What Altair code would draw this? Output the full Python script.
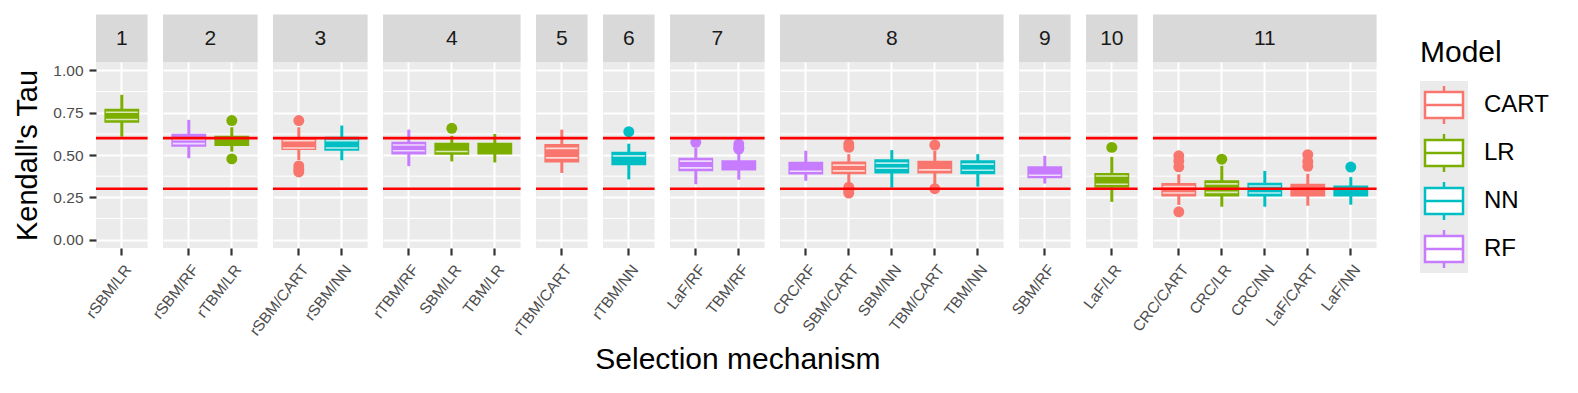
import altair as alt
import pandas as pd

FONT = "Liberation Sans"

models = ["CART", "LR", "NN", "RF"]
model_colors = ["#F8766D", "#7CAE00", "#00BFC4", "#C77CFF"]

panel_ids = [1, 2, 2, 3, 3, 4, 4, 4, 5, 6, 7, 7, 8, 8, 8, 8, 8, 9, 10, 11, 11, 11, 11, 11]
mechanisms = ["rSBM/LR", "rSBM/RF", "rTBM/LR", "rSBM/CART", "rSBM/NN",
              "rTBM/RF", "SBM/LR", "TBM/LR", "rTBM/CART", "rTBM/NN",
              "LaF/RF", "TBM/RF", "CRC/RF", "SBM/CART", "SBM/NN", "TBM/CART", "TBM/NN",
              "SBM/RF", "LaF/LR", "CRC/CART", "CRC/LR", "CRC/NN", "LaF/CART", "LaF/NN"]
box_model = ["LR", "RF", "LR", "CART", "NN",
             "RF", "LR", "LR", "CART", "NN",
             "RF", "RF", "RF", "CART", "NN", "CART", "NN",
             "RF", "LR", "CART", "LR", "NN", "CART", "NN"]
whisker_lo = [0.608, 0.481, 0.520, 0.470, 0.469,
              0.434, 0.462, 0.456, 0.394, 0.356,
              0.327, 0.354, 0.348, 0.337, 0.307, 0.327, 0.313,
              0.331, 0.223, 0.205, 0.194, 0.194, 0.200, 0.206]
q1 = [0.690, 0.549, 0.553, 0.529, 0.525,
      0.503, 0.501, 0.503, 0.456, 0.440,
      0.404, 0.408, 0.384, 0.386, 0.390, 0.390, 0.386,
      0.362, 0.307, 0.255, 0.255, 0.255, 0.254, 0.254]
q3 = [0.773, 0.626, 0.614, 0.594, 0.608,
      0.579, 0.572, 0.572, 0.565, 0.519,
      0.483, 0.469, 0.460, 0.462, 0.475, 0.466, 0.469,
      0.434, 0.394, 0.334, 0.350, 0.336, 0.330, 0.320]
whisker_hi = [0.856, 0.708, 0.664, 0.664, 0.674,
              0.650, 0.614, 0.624, 0.650, 0.567,
              0.541, 0.505, 0.525, 0.505, 0.529, 0.525, 0.505,
              0.495, 0.489, 0.386, 0.436, 0.406, 0.389, 0.369]
median_lines = [[0.753, 0.710], [0.590, 0.567], [], [0.585, 0.541], [0.585, 0.541],
                [0.559, 0.525], [0.521], [], [0.539, 0.483], [0.495],
                [0.464, 0.424], [], [0.404], [0.440, 0.406], [0.452, 0.422], [0.412], [0.446, 0.410],
                [0.380], [0.376, 0.327], [0.313, 0.275], [0.329, 0.279], [0.317, 0.275], [], []]
outliers = [[], [], [0.704, 0.477], [0.704, 0.435, 0.415, 0.400], [],
            [], [0.658], [], [], [0.638],
            [0.575], [0.565, 0.545, 0.535], [], [0.565, 0.545, 0.310, 0.290, 0.275], [], [0.559, 0.301], [],
            [], [0.545], [0.495, 0.465, 0.430, 0.164], [0.475], [], [0.502, 0.462, 0.433], [0.429]]

ref_lines = [0.3, 0.6]
y_ticks = [0.0, 0.25, 0.5, 0.75, 1.0]
minor_breaks = [0.125, 0.375, 0.625, 0.875]

STEP = 43
PANEL_H = 186

color_scale = alt.Scale(domain=models, range=model_colors)
yscale = alt.Scale(domain=[-0.05, 1.05], nice=False, zero=False)


def panel_chart(p, first):
    idx = [i for i, v in enumerate(panel_ids) if v == p]
    mechs = [mechanisms[i] for i in idx]
    n = len(mechs)
    w = STEP * (n + 0.2)
    box_df = pd.DataFrame({
        "mech": mechs,
        "model": [box_model[i] for i in idx],
        "lo": [whisker_lo[i] for i in idx],
        "q1": [q1[i] for i in idx],
        "q3": [q3[i] for i in idx],
        "hi": [whisker_hi[i] for i in idx],
    })
    med_df = pd.DataFrame([{"mech": mechanisms[i], "model": box_model[i], "v": m}
                           for i in idx for m in median_lines[i]], columns=["mech", "model", "v"])
    out_df = pd.DataFrame([{"mech": mechanisms[i], "model": box_model[i], "v": o}
                           for i in idx for o in outliers[i]], columns=["mech", "model", "v"])

    xenc = alt.X("mech:N",
                 scale=alt.Scale(domain=mechs, paddingInner=0.19, paddingOuter=0.195),
                 axis=alt.Axis(title=None, labelAngle=-52, labelAlign="right", labelBaseline="top",
                               bandPosition=0.5, labelPadding=7, labelOffset=1, grid=True,
                               gridColor="white", gridWidth=2, domain=False))
    if first:
        yaxis = alt.Axis(values=y_ticks, format=".2f", title="Kendall's Tau", titleFontSize=29,
                         titleFontWeight="normal", titleColor="black", titlePadding=10,
                         labelPadding=6, grid=True, domain=False)
    else:
        yaxis = alt.Axis(values=y_ticks, labels=False, ticks=False, domain=False, title=None, grid=True)
    col = alt.Color("model:N", scale=color_scale, legend=None)

    minor = alt.Chart(pd.DataFrame({"v": minor_breaks})).mark_rule(
        color="white", strokeWidth=1).encode(
        y=alt.Y("v:Q", scale=yscale, axis=yaxis), x=alt.value(0), x2=alt.value(w))
    whisk = alt.Chart(box_df).mark_rule(strokeWidth=3).encode(
        x=xenc, y=alt.Y("lo:Q", scale=yscale, axis=yaxis), y2="hi:Q", color=col)
    box = alt.Chart(box_df).mark_bar(cornerRadius=0).encode(
        x=xenc, y=alt.Y("q1:Q", scale=yscale, axis=yaxis), y2="q3:Q", color=col)
    meds = alt.Chart(med_df).mark_tick(orient="horizontal", size=32, thickness=1.6,
                                       color="white", opacity=0.72).encode(
        x=xenc, y=alt.Y("v:Q", scale=yscale, axis=yaxis))
    outs = alt.Chart(out_df).mark_circle(size=120, opacity=1).encode(
        x=xenc, y=alt.Y("v:Q", scale=yscale, axis=yaxis), color=col)
    red = alt.Chart(pd.DataFrame({"v": ref_lines})).mark_rule(
        color="#FF0000", strokeWidth=2.6).encode(
        y=alt.Y("v:Q", scale=yscale, axis=yaxis), x=alt.value(0), x2=alt.value(w))
    strip_df = pd.DataFrame({"label": [str(p)]})
    strip = alt.Chart(strip_df).mark_rect(color="#D9D9D9").encode(
        x=alt.value(0), x2=alt.value(w), y=alt.value(-47.5), y2=alt.value(0))
    strip_txt = alt.Chart(strip_df).mark_text(fontSize=21, color="#1A1A1A", baseline="middle",
                                              align="center", font=FONT).encode(
        x=alt.value(w / 2), y=alt.value(-23.5), text="label:N")

    return alt.layer(minor, whisk, box, meds, outs, red, strip, strip_txt).properties(
        width=w, height=PANEL_H,
        view=alt.ViewBackground(fill="#EBEBEB", strokeWidth=0))


panels = [panel_chart(p, p == 1) for p in range(1, 12)]

inner = alt.hconcat(*panels, spacing=15).resolve_scale(
    x="independent", y="independent", color="independent").properties(
    bounds="flush",
    title=alt.TitleParams("Selection mechanism", orient="bottom", anchor="middle",
                          fontSize=30, fontWeight="normal", color="black", font=FONT,
                          dx=42, offset=6))

# manual legend
leg_df = pd.DataFrame({"Model": models})
yl = alt.Y("Model:N", scale=alt.Scale(type="point", domain=models, range=[43, 187], padding=0),
           axis=None)
colL = alt.Color("Model:N", scale=color_scale, legend=None)
strokeL = alt.Stroke("Model:N", scale=color_scale, legend=None)

leg_bg = alt.Chart(pd.DataFrame({"k": [0]})).mark_rect(color="#EBEBEB").encode(
    x=alt.value(0), x2=alt.value(48), y=alt.value(19), y2=alt.value(211))
leg_whisk = alt.Chart(leg_df).mark_rule(strokeWidth=2.5, yOffset=-19, y2Offset=19).encode(
    x=alt.value(24), y=yl, y2=alt.Y2("Model"), color=colL)
leg_box = alt.Chart(leg_df).mark_rect(fill="white", strokeWidth=2.5, yOffset=-13, y2Offset=13).encode(
    x=alt.value(5), x2=alt.value(43), y=yl, y2=alt.Y2("Model"), stroke=strokeL)
leg_med = alt.Chart(leg_df).mark_rule(strokeWidth=2.5).encode(
    x=alt.value(5), x2=alt.value(43), y=yl, color=colL)
leg_lab = alt.Chart(leg_df).mark_text(align="left", baseline="middle", fontSize=24,
                                      color="black", font=FONT).encode(
    x=alt.value(64), y=yl, text="Model:N")
leg_title = alt.Chart(pd.DataFrame({"t": ["Model"]})).mark_text(
    align="left", baseline="alphabetic", fontSize=30, color="black", font=FONT).encode(
    x=alt.value(0), y=alt.value(0), text="t:N")

legend = alt.layer(leg_bg, leg_whisk, leg_box, leg_med, leg_lab, leg_title).resolve_scale(
    color="shared", stroke="independent").properties(
    width=125, height=230, view=alt.ViewBackground(strokeWidth=0))

chart = alt.hconcat(inner, legend, spacing=42).resolve_scale(
    color="independent", stroke="independent").properties(
    padding={"left": 5, "top": 6, "right": 5, "bottom": 5}
).configure_axis(
    labelFont=FONT, titleFont=FONT, labelFontSize=15.5, labelColor="#4D4D4D",
    tickColor="#333333", tickWidth=2.2, tickSize=7, gridColor="white", gridWidth=2,
    domain=False
).configure_view(strokeWidth=0).configure_title(font=FONT)

chart.save("out.html", embed_options={"renderer": "svg", "actions": False})
